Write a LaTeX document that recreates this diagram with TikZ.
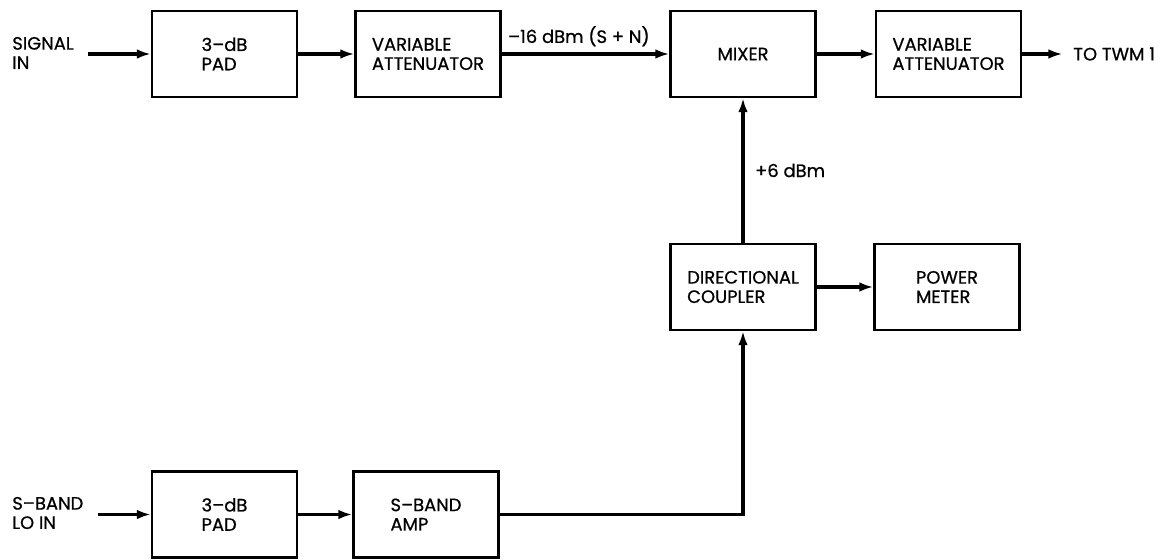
\documentclass[tikz,border=0pt]{standalone}
\usepackage{fontspec}
\setmainfont{Poppins}[FakeBold=0.7,AutoFakeBold=0.7]
\usetikzlibrary{arrows.meta}
\begin{document}
\begin{tikzpicture}[x=0.02cm,y=-0.02cm,
  txt/.style={font=\fontsize{10.2}{11}\selectfont\bfseries, align=left, inner sep=0pt},
  blk/.style={txt, draw, line width=1.3pt, minimum width=2.9cm, minimum height=1.72cm},
  conn/.style={line width=1.8pt, -{Latex[length=8pt,width=5.5pt]}},
]
\useasboundingbox (0,0) rectangle (1167,560);
% top row
\node[txt, anchor=west] (sigin) at (12,53) {SIGNAL\\IN};
\node[blk] (pad1) at (224.5,54) {3–dB\\PAD};
\node[blk] (va1) at (428,54) {VARIABLE\\ATTENUATOR};
\node[blk] (mixer) at (743,54) {MIXER};
\node[blk] (va2) at (948.5,54) {VARIABLE\\ATTENUATOR};
\node[txt, anchor=west] (twm) at (1073,54) {TO TWM 1};
% middle
\node[blk] (coupler) at (743,287) {DIRECTIONAL\\COUPLER};
\node[blk] (pm) at (947,287) {POWER\\METER};
% bottom row
\node[txt, anchor=west] (loin) at (12,513) {S–BAND\\LO IN};
\node[blk] (pad2) at (224.5,514.5) {3–dB\\PAD};
\node[blk] (amp) at (426,514.5) {S–BAND\\AMP};
% connectors
\draw[conn, shorten <=8pt] (sigin.east |- pad1.west) -- (pad1.west);
\draw[conn] (pad1.east) -- (va1.west);
\draw[conn] (va1.east) -- node[txt, above=3.5pt, pos=0.46] (lvl1) {–16 dBm (S + N)} (mixer.west);
\draw[conn] (mixer.east) -- (va2.west);
\draw[conn, shorten >=6pt] (va2.east) -- (twm.west);
\draw[conn] (coupler.north) -- node[txt, right=6pt] (lvl2) {+6 dBm} (mixer.south);
\draw[conn] (coupler.east) -- (pm.west);
\draw[conn, shorten <=8pt] (loin.east |- pad2.west) -- (pad2.west);
\draw[conn] (pad2.east) -- (amp.west);
\draw[conn] (amp.east) -| (coupler.south);
\end{tikzpicture}
\end{document}
